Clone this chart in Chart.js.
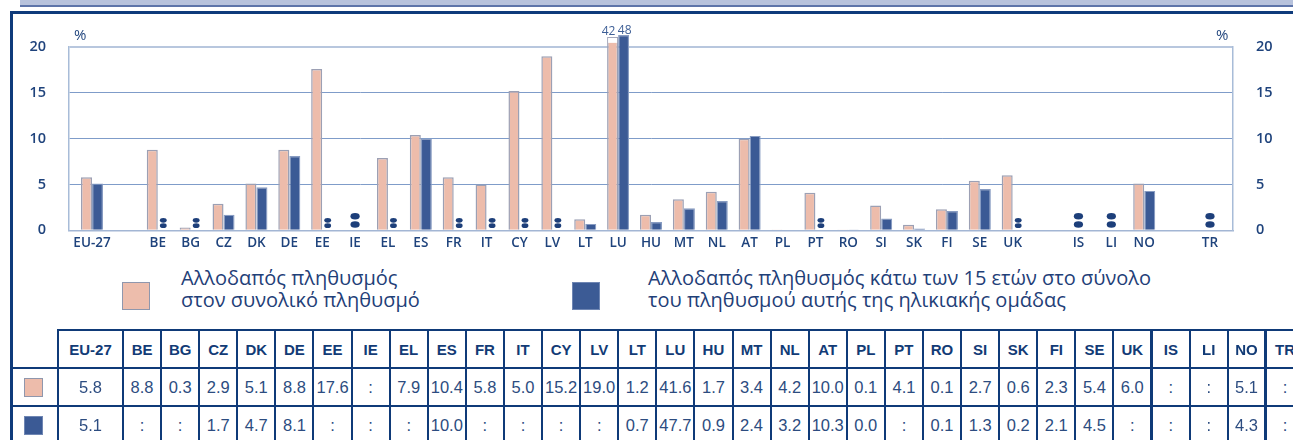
<!DOCTYPE html>
<html>
<head>
<meta charset="utf-8">
<script src="https://cdn.jsdelivr.net/npm/chart.js@4"></script>
<style>
  html, body { margin: 0; padding: 0; background: #fff; }
  body { width: 1293px; height: 440px; position: relative; overflow: hidden; font-family: "Open Sans", sans-serif; }
  .band { position: absolute; left: 20px; right: 0; top: 0; height: 5px; background: #b7c2dc; }
  .band2 { position: absolute; left: 20px; right: 0; top: 5px; height: 2px; background: #5d74a9; }
  .frameTop { position: absolute; left: 10px; right: 0; top: 11px; height: 2.5px; background: #0f3b7b; }
  .frameLeft { position: absolute; left: 10px; top: 11px; width: 2.5px; bottom: 0; background: #0f3b7b; }
  #wrap { position: absolute; left: 0; top: 0; width: 1293px; height: 262px; }
  .pct { position: absolute; top: 24px; font-size: 15px; color: #23477f; }
  .leg { position: absolute; top: 267px; font-size: 20px; line-height: 22px; color: #1f4078; }
  .sw { position: absolute; top: 282px; width: 26px; height: 26px; border: 1px solid #8f97ad; }
  table { position: absolute; left: 10px; top: 329px; border-collapse: collapse; table-layout: fixed; font-family: "Liberation Sans", Arial, sans-serif; }
  td { border: 2.5px solid #0f3a78; text-align: center; padding: 0; height: 36px; white-space: nowrap; overflow: hidden; }
  tr.hd td { font-weight: bold; font-size: 15px; color: #123b76; }
  tr.vr td { font-size: 16.5px; color: #2c4c80; }
  td.first { border-left: none; }
  tr.hd td.first { border-top: none; }
  td.thick { border-right-width: 3.5px; }
  .tsw { display: inline-block; width: 17px; height: 17px; vertical-align: middle; }
</style>
</head>
<body>
<div class="band"></div><div class="band2"></div>
<div class="frameTop"></div><div class="frameLeft"></div>
<div id="wrap"><canvas id="c" width="1293" height="262"></canvas></div>
<div class="pct" style="left:74px">%</div>
<div class="pct" style="left:1216px">%</div>
<div class="sw" style="left:122px;background:#edbdac"></div>
<div class="leg" id="leg1" style="left:181px"></div>
<div class="sw" style="left:572px;background:#3c5b95;border-color:#6f86b3"></div>
<div class="leg" id="leg2" style="left:648px"></div>
<table id="tbl"></table>
<script>
// ---- data ----
const categories = ['EU-27','BE','BG','CZ','DK','DE','EE','IE','EL','ES','FR','IT','CY','LV','LT','LU','HU','MT','NL','AT','PL','PT','RO','SI','SK','FI','SE','UK','IS','LI','NO','TR'];
const gapAfter = ['EU-27','UK','NO'];
const foreignTotal = [5.8,8.8,0.3,2.9,5.1,8.8,17.6,null,7.9,10.4,5.8,5.0,15.2,19.0,1.2,41.6,1.7,3.4,4.2,10.0,0.1,4.1,0.1,2.7,0.6,2.3,5.4,6.0,null,null,5.1,null];
const foreignUnder15 = [5.1,null,null,1.7,4.7,8.1,null,null,null,10.0,null,null,null,null,0.7,47.7,0.9,2.4,3.2,10.3,0.0,null,0.1,1.3,0.2,2.1,4.5,null,null,null,4.3,null];
const yTicks = [0,5,10,15,20];
const seriesNames = [
  ['Αλλοδαπός πληθυσμός','στον συνολικό πληθυσμό'],
  ['Αλλοδαπός πληθυσμός κάτω των 15 ετών στο σύνολο','του πληθυσμού αυτής της ηλικιακής ομάδας']
];
// ---- styles ----
const AXIS_MAX = 20;
const BROKEN_TOP = [21.1, 21.3];
const PINK = '#edbcab', PINK_BORDER = '#9ca0b4';
const BLUE = '#3b5a95', BLUE_BORDER = '#889cc2';
const NAVY = '#1f437c';

document.getElementById('leg1').innerHTML = seriesNames[0].join('<br>');
document.getElementById('leg2').innerHTML = seriesNames[1].join('<br>');

// slot positions (gaps after some groups)
const positions = [];
{ let p = 0; categories.forEach(c => { positions.push(p); p += gapAfter.includes(c) ? 2 : 1; }); }
const lastPos = positions[positions.length - 1];

const shown = (arr, d) => arr.map((v, i) => ({ x: positions[i], y: v == null ? null : (v > AXIS_MAX ? BROKEN_TOP[d] : v) }));

const extras = {
  id: 'extras',
  afterDatasetsDraw(chart) {
    const ctx = chart.ctx;
    const xs = chart.scales.x, ys = chart.scales.y;
    const m0 = chart.getDatasetMeta(0), m1 = chart.getDatasetMeta(1);
    const base = ys.getPixelForValue(0);
    ctx.save();
    ctx.fillStyle = '#1d3f7a';
    const dots = (x, big) => {
      const rx = big ? 4.6 : 3.4, ry = big ? 3.3 : 2.4;
      const o1 = big ? 14 : 10, o2 = big ? 5.8 : 4.6;
      [o1, o2].forEach(o => { ctx.beginPath(); ctx.ellipse(x, base - o, rx, ry, 0, 0, Math.PI * 2); ctx.fill(); });
    };
    categories.forEach((c, i) => {
      const a = foreignTotal[i], b = foreignUnder15[i];
      if (a == null && b == null) {
        dots(xs.getPixelForValue(positions[i]), true);
      } else if (b == null) {
        const el = m0.data[i];
        dots(el.x + el.width, false);
      }
      // broken bars
      [[a, m0, 0], [b, m1, 1]].forEach(([v, meta, d]) => {
        if (v != null && v > AXIS_MAX) {
          const el = meta.data[i];
          if (d === 0) {
            const yb = ys.getPixelForValue(AXIS_MAX + 0.45);
            ctx.fillStyle = '#ffffff';
            ctx.fillRect(el.x - el.width / 2 + 1, el.y + 1, el.width - 2, yb - el.y - 1);
          }
          ctx.fillStyle = '#3e5f96';
          ctx.font = '12px "Open Sans"';
          ctx.textAlign = 'center';
          ctx.textBaseline = 'bottom';
          ctx.fillText(String(Math.round(v)), el.x + (d === 0 ? -4 : 1), el.y + 1);
          ctx.fillStyle = '#1d3f7a';
        }
      });
    });
    ctx.restore();
  }
};

const gridColor = c => c.tick.value === 20 ? '#b8c7de' : (c.tick.value === 0 ? '#a3b6d4' : '#7f9cc9');
const tickFont = { family: 'Open Sans', size: 14.5, weight: '600' };

new Chart(document.getElementById('c'), {
  type: 'bar',
  data: {
    datasets: [
      { data: shown(foreignTotal, 0), backgroundColor: PINK, borderColor: PINK_BORDER, borderWidth: 1.5, borderSkipped: 'bottom', clip: false, yAxisID: 'y' },
      { data: shown(foreignUnder15, 1), backgroundColor: BLUE, borderColor: BLUE_BORDER, borderWidth: 1.2, borderSkipped: 'bottom', clip: false, yAxisID: 'y' }
    ]
  },
  options: {
    responsive: false,
    animation: false,
    events: [],
    layout: { padding: { top: 47, left: 0, right: 0, bottom: 0 } },
    datasets: { bar: { barPercentage: 1, categoryPercentage: 0.67 } },
    plugins: { legend: { display: false }, tooltip: { enabled: false } },
    scales: {
      x: {
        type: 'linear', min: -0.7, max: lastPos + 0.7, offset: false,
        grid: { display: false, drawTicks: false, offset: false },
        border: { color: '#a3b6d4', width: 1.5 },
        afterBuildTicks: s => { s.ticks = positions.map(p => ({ value: p })); },
        afterFit: s => { s.height = 27; },
        ticks: {
          autoSkip: false, maxRotation: 0, padding: 5, color: NAVY,
          font: { family: 'Open Sans', size: 13.5, weight: '600' },
          callback: v => { const i = positions.indexOf(v); return i >= 0 ? categories[i] : ''; }
        }
      },
      y: {
        position: 'left', min: 0, max: 20,
        afterBuildTicks: s => { s.ticks = yTicks.map(v => ({ value: v })); },
        afterFit: s => { s.width = 69; },
        grid: { color: gridColor, lineWidth: c => c.tick.value === 20 ? 2 : 1, drawTicks: false },
        border: { color: '#a8bcd8', width: 1.5 },
        ticks: { padding: 23, color: NAVY, font: tickFont }
      },
      y2: {
        position: 'right', min: 0, max: 20,
        afterBuildTicks: s => { s.ticks = yTicks.map(v => ({ value: v })); },
        afterFit: s => { s.width = 60; },
        grid: { display: false, drawTicks: false },
        border: { color: '#a8bcd8', width: 1.5 },
        ticks: { padding: 23, color: NAVY, font: tickFont }
      }
    }
  },
  plugins: [extras]
});

// ---- table ----
const fmt = v => v == null ? ':' : v.toFixed(1);
const tbl = document.getElementById('tbl');
let cols = '<colgroup><col style="width:48px"><col style="width:65px">';
for (let i = 1; i < categories.length; i++) cols += '<col style="width:38.1px">';
cols += '</colgroup>';
const cls = c => (c === 'UK' || c === 'NO') ? ' class="thick"' : '';
let hd = '<tr class="hd"><td class="first"></td>' + categories.map(c => `<td${cls(c)}>${c}</td>`).join('') + '</tr>';
let r1 = `<tr class="vr"><td class="first"><span class="tsw" style="background:${PINK};border:1px solid #8f97ad"></span></td>` + foreignTotal.map((v, i) => `<td${cls(categories[i])}>${fmt(v)}</td>`).join('') + '</tr>';
let r2 = `<tr class="vr"><td class="first"><span class="tsw" style="background:${BLUE};border:1px solid #6f86b3"></span></td>` + foreignUnder15.map((v, i) => `<td${cls(categories[i])}>${fmt(v)}</td>`).join('') + '</tr>';
tbl.innerHTML = cols + hd + r1 + r2;
tbl.style.width = (48 + 65 + 38.1 * (categories.length - 1)) + 'px';
</script>
</body>
</html>
